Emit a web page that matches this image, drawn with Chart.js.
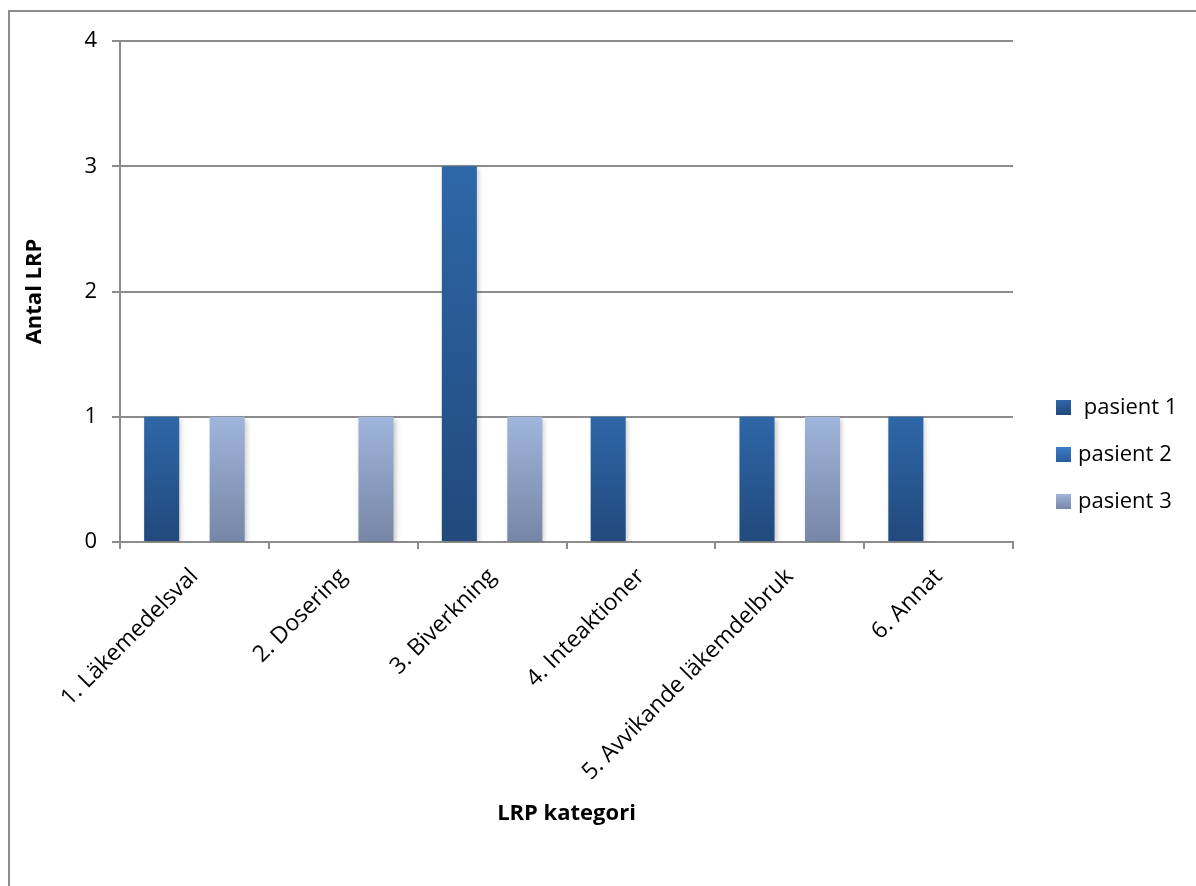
<!DOCTYPE html>
<html>
<head>
<meta charset="utf-8">
<script src="https://cdn.jsdelivr.net/npm/chart.js@4"></script>
<style>
  html, body { margin: 0; padding: 0; background: #fff; }
  #wrap { position: relative; width: 1196px; height: 886px; overflow: hidden; }
  #frame { position: absolute; left: 8px; top: 10px; width: 1300px; height: 1000px;
           border-left: 2px solid #8c8c8c; border-top: 2px solid #8c8c8c; }
  canvas { position: absolute; left: 0; top: 0; }
</style>
</head>
<body>
<div id="wrap">
  <div id="frame"></div>
  <canvas id="chart" width="1196" height="886"></canvas>
</div>
<script>
// ── data ──────────────────────────────
const categories = ['1. Läkemedelsval', '2. Dosering', '3. Biverkning', '4. Inteaktioner', '5. Avvikande läkemdelbruk', '6. Annat'];
const seriesNames = [' pasient 1', 'pasient 2', 'pasient 3'];
const pasient1 = [1, 0, 3, 1, 1, 1];
const pasient2 = [0, 0, 0, 0, 0, 0];
const pasient3 = [1, 1, 1, 0, 1, 0];
const yTicks   = [0, 1, 2, 3, 4];

// gradient ends, top → bottom
const SHADES = [
  ['#2e67a8', '#21497c'],
  ['#3c7dcb', '#2a5c9c'],
  ['#a0b5dc', '#7686a6']
];

const FONT = 'Open Sans';
const GRID = '#8c8c8c';

function barFill(i) {
  return ctx => {
    const chart = ctx.chart;
    const y = chart.scales && chart.scales.y;
    if (!y || ctx.type !== 'data') return SHADES[i][1];
    const top = y.getPixelForValue(ctx.raw || 0);
    const bot = y.getPixelForValue(0);
    if (!isFinite(top) || !isFinite(bot) || bot - top < 1) return SHADES[i][1];
    const g = chart.ctx.createLinearGradient(0, top, 0, bot);
    g.addColorStop(0, SHADES[i][0]);
    g.addColorStop(1, SHADES[i][1]);
    return g;
  };
}

const shadowPlugin = {
  id: 'barShadow',
  beforeDatasetsDraw(chart) {
    const c = chart.ctx;
    c.save();
    c.shadowColor = 'rgba(0,0,0,0.22)';
    c.shadowBlur = 5;
    c.shadowOffsetX = 2;
    c.shadowOffsetY = 2;
  },
  afterDatasetsDraw(chart) { chart.ctx.restore(); }
};

const sideLegend = {
  id: 'sideLegend',
  afterDraw(chart) {
    const c = chart.ctx;
    c.save();
    c.font = `22px "${FONT}"`;
    c.textBaseline = 'middle';
    chart.data.datasets.forEach((ds, i) => {
      const cy = 407 + i * 47;
      const g = c.createLinearGradient(0, cy - 7, 0, cy + 8);
      g.addColorStop(0, SHADES[i][0]);
      g.addColorStop(1, SHADES[i][1]);
      c.fillStyle = g;
      c.fillRect(1056, cy - 7, 15, 15);
      c.fillStyle = '#000';
      c.fillText(ds.label, 1078, cy + 1);
    });
    c.restore();
  }
};

const seriesData = [pasient1, pasient2, pasient3];

const chart = new Chart(document.getElementById('chart').getContext('2d'), {
  type: 'bar',
  data: {
    labels: categories,
    datasets: seriesData.map((d, i) => ({
      label: seriesNames[i],
      data: d,
      backgroundColor: barFill(i),
      borderWidth: 0,
      categoryPercentage: 0.66,
      barPercentage: 1.07
    }))
  },
  options: {
    responsive: false,
    animation: false,
    layout: { padding: { left: 22, top: 41, right: 183, bottom: 51 } },
    plugins: {
      legend: { display: false },
      tooltip: { enabled: false }
    },
    scales: {
      x: {
        afterFit: s => { s.height = 293; },
        grid: { offset: true, drawOnChartArea: false, drawTicks: true, tickLength: 7, color: GRID, lineWidth: 2 },
        border: { display: true, color: GRID, width: 2 },
        ticks: { minRotation: 45, maxRotation: 45, padding: 14, color: '#000', font: { family: FONT, size: 23 } },
        title: { display: true, text: 'LRP kategori', color: '#000', font: { family: FONT, size: 22, weight: 'bold' }, padding: { top: 0, bottom: 8 } }
      },
      y: {
        min: 0, max: 4,
        afterFit: s => { s.width = 98; },
        afterBuildTicks: s => { s.ticks = yTicks.map(v => ({ value: v })); },
        grid: { color: GRID, lineWidth: 2, tickLength: 8 },
        border: { display: true, color: GRID, width: 2 },
        ticks: { padding: 15, color: '#000', font: { family: FONT, size: 22 } },
        title: { display: true, text: 'Antal LRP', color: '#000', font: { family: FONT, size: 22, weight: 'bold' }, padding: 0 }
      }
    }
  },
  plugins: [shadowPlugin, sideLegend]
});
// gradients need the laid-out scales
chart.update();
</script>
</body>
</html>
